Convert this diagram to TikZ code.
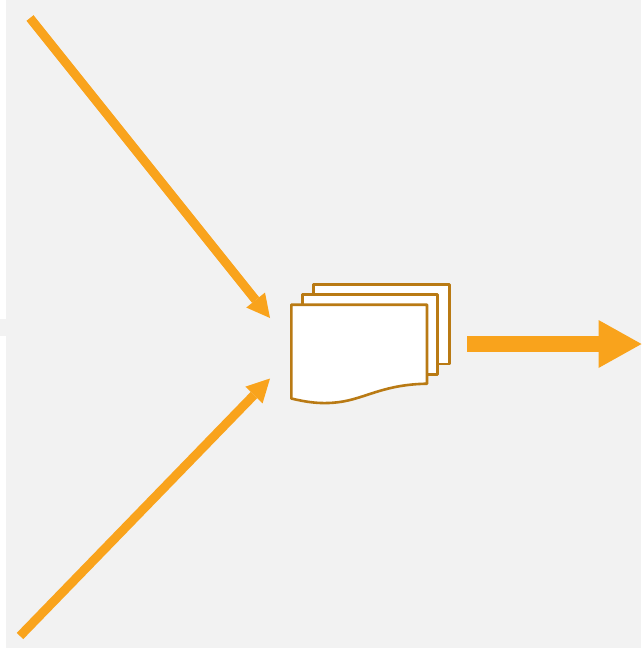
\documentclass[tikz,border=0pt]{standalone}
\usetikzlibrary{arrows.meta}
\definecolor{bggray}{HTML}{F2F2F2}
\definecolor{arroworange}{HTML}{F9A31C}
\definecolor{docbrown}{HTML}{B97A14}
\tikzset{
  thinarrow/.style={draw=arroworange,line width=9pt,-{Triangle[length=23pt,width=24pt,line width=0pt,fill=arroworange]}},
  thickarrow/.style={draw=arroworange,line width=16pt,-{Triangle[length=43pt,width=48pt,line width=0pt,fill=arroworange]}},
  sheet/.style={draw=docbrown,fill=white,line width=2.6pt,line join=round}
}
\begin{document}
\begin{tikzpicture}[x=1pt,y=-1pt]
\useasboundingbox (0,0) rectangle (641,648);
\fill[white] (0,0) rectangle (641,648);
\fill[bggray] (6,0) rectangle (641,648);
\fill[bggray] (0,319) rectangle (6,336);
\coordinate (topstart) at (30,18);
\coordinate (toptip) at (270,318);
\coordinate (botstart) at (20,636);
\coordinate (bottip) at (270,378.5);
\coordinate (outstart) at (467,344);
\coordinate (outtip) at (641.5,344);
\draw[thinarrow] (topstart) -- (toptip);
\draw[thinarrow] (botstart) -- (bottip);
\draw[thickarrow] (outstart) -- (outtip);
\draw[sheet] (313.3,284.7) rectangle (449.3,364);
\draw[sheet] (302.3,294.7) rectangle (437.3,374.3);
\draw[sheet] (291.3,304.7) -- (427,304.7) -- (427,383.7)
  .. controls (385,384.5) and (368,397) .. (343,401.5)
  .. controls (325,404.5) and (310,403) .. (291.3,398.5) -- cycle;
\end{tikzpicture}
\end{document}
